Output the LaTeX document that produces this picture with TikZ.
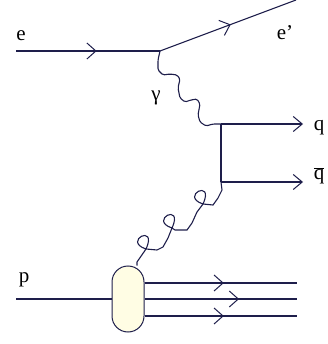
\documentclass[tikz,border=0pt]{standalone}
\usepackage{fontspec}
\setmainfont{Liberation Serif}
\usetikzlibrary{arrows.meta,decorations.markings}
\definecolor{lineblue}{RGB}{30,30,75}
\definecolor{blobfill}{RGB}{255,253,228}

\begin{document}
\begin{tikzpicture}[x=1pt,y=-1pt,line width=1.1pt,lineblue,
    fermion/.style={postaction={decorate},decoration={markings,
        mark=at position #1 with {\arrow{Straight Barb[length=9pt,width=16pt,line width=1pt]}}}},
    fermion/.default=0.5,
    outline/.style={-{Straight Barb[length=9pt,width=15pt,line width=1pt]}},
    photon/.style={rounded corners=1.5pt},
    lbl/.style={text=black,inner sep=0pt,font=\fontsize{21}{23}\selectfont}]
    \useasboundingbox (0,0) rectangle (327,344);
    % electron
    \coordinate (ein) at (16,51);
    \coordinate (ev) at (160,51);
    \coordinate (eout) at (296,0);
    \draw[fermion=0.56] (ein) -- (ev);
    \draw[fermion=0.52] (ev) -- (eout);
    % quark pair
    \coordinate (qv) at (221,124);
    \coordinate (qb) at (221,182);
    \coordinate (qend) at (303,124);
    \coordinate (qbend) at (303,182);
    \draw[outline] (qv) -- (qend);
    \draw[outline] (qb) -- (qbend);
    \draw (qv) -- (qb);
    % photon
    \draw[photon] (ev) -- (158,60) -- (158,70) -- (163,75) -- (170,74) -- (177,75) -- (180,79)
        -- (178,88) -- (180,98) -- (185,102) -- (191,100) -- (197,99) -- (200,104)
        -- (198,115) -- (200,122) -- (206,126) -- (213,124) -- (qv);
    % proton
    \node[draw,fill=blobfill,rounded corners=16pt,minimum width=32pt,minimum height=66pt,
        line width=1pt] (blob) at (128,299) {};
    \coordinate (pin) at (16,299);
    \coordinate (s1) at (297,283);
    \coordinate (s2) at (297,299);
    \coordinate (s3) at (297,316);
    \draw (pin) -- (blob.west);
    \draw[fermion=0.52] (blob.east |- s1) -- (s1);
    \draw[fermion=0.62] (blob.east |- s2) -- (s2);
    \draw[fermion=0.52] (blob.east |- s3) -- (s3);
    % gluon
    \coordinate (g1) at (203,204);
    \coordinate (g2) at (172,228);
    \coordinate (g3) at (146,249);
    \draw (qb) -- (222,190) -- (218,198) -- (213,205) -- (g1)
        .. controls +(-24,-8) and +(12,-26) .. (g1) -- (197,212) -- (192,223) -- (187,230)
        -- (175,230) -- (g2)
        .. controls +(-24,-8) and +(12,-26) .. (g2) -- (168,238) -- (163,247) -- (157,250)
        -- (g3)
        .. controls +(-24,-8) and +(12,-26) .. (g3) -- (137,262) -- (blob.75);
    % labels
    \node[lbl] (le) at (21,36) {e};
    \node[lbl] (lep) at (285,33) {e'};
    \node[lbl] (lg) at (156,98) {γ};
    \node[lbl] (lq) at (319,128) {q};
    \node[lbl] (lqb) at (319,176) {$\overline{\mbox{q}}$};
    \node[lbl] (lp) at (24,280) {p};
\end{tikzpicture}
\end{document}
